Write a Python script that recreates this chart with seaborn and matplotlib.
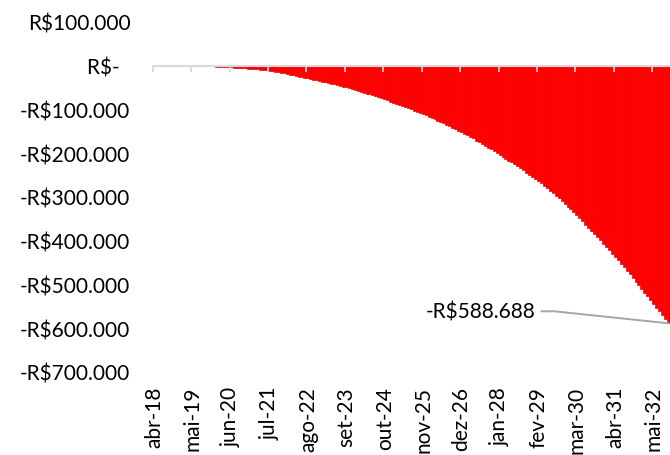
import matplotlib
matplotlib.use("Agg")
import matplotlib.pyplot as plt
import seaborn as sns
import pandas as pd
from matplotlib.ticker import FuncFormatter, FixedLocator

# Saldo acumulado mensal (R$), de abr-18 em diante
saldo = [
    0, 0, 0, 0, 0, 0, 0, 0, 0, 0, 0, 0,                                            # abr-18 .. mar-19
    0, 0, 0, 0, 0, -600, -900, -1200, -1500, -1800, -2100, -2400,                  # abr-19 .. mar-20
    -2800, -3200, -3600, -4000, -4500, -5000, -5500, -6000, -6600, -7200, -7800, -8500,   # abr-20 .. mar-21
    -9200, -10000, -10800, -11700, -12700, -13800, -15000, -16300, -17600, -19000, -20400, -21800,  # abr-21 .. mar-22
    -23200, -24600, -26000, -27400, -28900, -30400, -31900, -33400, -34900, -36400, -37900, -39400,  # abr-22 .. mar-23
    -41000, -42600, -44200, -45900, -47600, -49400, -51300, -53200, -55200, -57200, -59300, -61400,  # abr-23 .. mar-24
    -63500, -65700, -67900, -70100, -72400, -74700, -77000, -79400, -81800, -84200, -86700, -89200,  # abr-24 .. mar-25
    -91700, -94300, -96900, -99600, -102300, -105000, -107800, -110600, -113500, -116400, -119400, -122400,  # abr-25 .. mar-26
    -125500, -128600, -131800, -135000, -138300, -141600, -145000, -148400, -151800, -155300, -158800, -162300,  # abr-26 .. mar-27
    -165900, -171000, -175000, -179000, -183000, -187000, -191000, -195200, -199400, -203600, -207900, -212200,  # abr-27 .. mar-28
    -216600, -221000, -225500, -230000, -234600, -239300, -244000, -248800, -253700, -258700, -263800, -269000,  # abr-28 .. mar-29
    -274300, -279800, -285500, -291300, -297200, -303200, -309300, -315500, -321800, -328200, -334700, -342000,  # abr-29 .. mar-30
    -348900, -355900, -362900, -370000, -377200, -384400, -391800, -399100, -406600, -414100, -421700, -429400,  # abr-30 .. mar-31
    -437100, -444900, -452800, -460800, -468800, -476900, -485000, -493300, -501600, -509900, -518400, -526900,  # abr-31 .. mar-32
    -535500, -544100, -552800, -561600, -570500, -579400, -588688,                                       # abr-32 .. out-32
]

MESES = ["jan", "fev", "mar", "abr", "mai", "jun", "jul", "ago", "set", "out", "nov", "dez"]
ano_inicial, mes_inicial = 2018, 4
meses = []
for i in range(len(saldo)):
    m = mes_inicial - 1 + i
    meses.append(f"{MESES[m % 12]}-{(ano_inicial + m // 12) % 100:02d}")

passo_rotulo = 13
rotulos_x = ["abr-18", "mai-19", "jun-20", "jul-21", "ago-22", "set-23", "out-24",
             "nov-25", "dez-26", "jan-28", "fev-29", "mar-30", "abr-31", "mai-32"]
limites_y = (-700000, 100000)
passo_y = 100000

VERMELHO = "#ff0000"
CINZA_EIXO = "#d9d9d9"
CINZA_GUIA = "#a6a6a6"
COR_TEXTO = "#000000"
TAM_FONTE = 15


def moeda(v):
    """Formato contábil em reais: R$-, R$100.000, -R$100.000."""
    if abs(v) < 0.5:
        return "R$-\u2002"
    corpo = f"{abs(v):,.0f}".replace(",", ".")
    return ("-R$" if v < 0 else "R$") + corpo


sns.set_theme(style="white")
plt.rcParams["font.family"] = ["Lato", "DejaVu Sans"]
plt.rcParams["text.color"] = COR_TEXTO

W, H = 670, 456
fig = plt.figure(figsize=(W / 100, H / 100), dpi=100)
esq, topo, base = 152.7, 23, 373
ax = fig.add_axes([esq / W, 1 - base / H, 1 - esq / W, (base - topo) / H])

df = pd.DataFrame({"mes": meses, "saldo": saldo})
sns.barplot(data=df, x="mes", y="saldo", color=VERMELHO, saturation=1,
            width=1.0, errorbar=None, linewidth=0.5, edgecolor=VERMELHO, ax=ax)

ax.set_xlim(-0.5, len(saldo) - 0.5)
ax.set_ylim(*limites_y)
ax.set_xlabel("")
ax.set_ylabel("")
for s in ax.spines.values():
    s.set_visible(False)

# Eixo Y
ax.yaxis.set_major_locator(FixedLocator(range(limites_y[0], limites_y[1] + 1, passo_y)))
ax.yaxis.set_major_formatter(FuncFormatter(lambda v, p: moeda(v)))
ax.tick_params(axis="y", length=0, pad=16, labelsize=TAM_FONTE, labelcolor=COR_TEXTO)

# Rótulos do eixo X (um a cada 13 meses)
pos_rotulos = list(range(0, len(saldo), passo_rotulo))
ax.set_xticks(pos_rotulos)
ax.set_xticklabels(rotulos_x, rotation=90, ha="center", va="top")
ax.tick_params(axis="x", length=0, pad=10, labelsize=TAM_FONTE, labelcolor=COR_TEXTO)

# Linha do zero com marcas de escala, sobre as barras
frac_zero = (0 - limites_y[0]) / (limites_y[1] - limites_y[0])
eixo_zero = ax.secondary_xaxis(frac_zero)
eixo_zero.set_zorder(5)
eixo_zero.set_xticks([p - 0.5 for p in pos_rotulos])
eixo_zero.tick_params(axis="x", direction="in", length=4.5, width=1.3, color=CINZA_EIXO,
                      labeltop=False, labelbottom=False)
for s in eixo_zero.spines.values():
    s.set_color(CINZA_EIXO)
    s.set_linewidth(1.5)

# Rótulo do último valor com linha guia
ultimo = len(saldo) - 1
ax.annotate(moeda(saldo[-1]), xy=(ultimo, saldo[-1]), xycoords="data",
            xytext=(-188, 12), textcoords="offset pixels",
            ha="center", va="center", fontsize=TAM_FONTE, color=COR_TEXTO,
            annotation_clip=False,
            arrowprops=dict(arrowstyle="-", color=CINZA_GUIA, lw=1.4,
                            shrinkA=2, shrinkB=0,
                            connectionstyle="angle,angleA=0,angleB=-6,rad=0"))

fig.savefig("out.png", dpi=100, facecolor="white")
